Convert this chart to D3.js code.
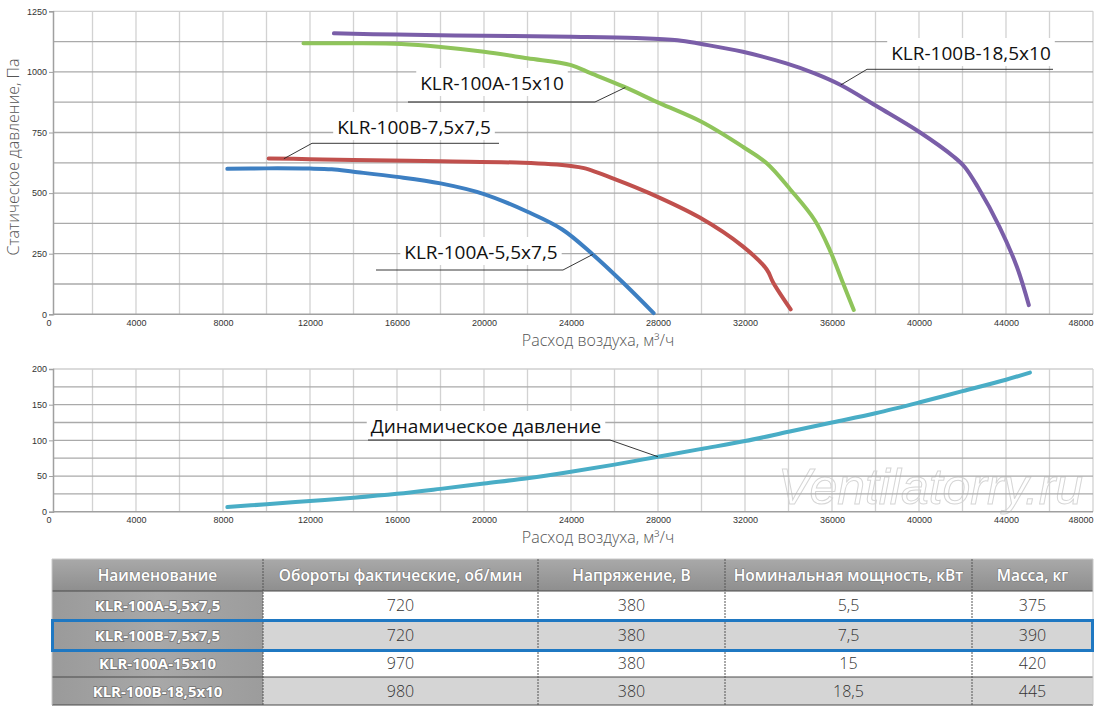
<!DOCTYPE html>
<html>
<head>
<meta charset="utf-8">
<script src="https://cdn.jsdelivr.net/npm/d3@7"></script>
<style>
body{margin:0;background:#fff;}
svg{display:block;font-family:"Open Sans","Noto Sans",sans-serif;}
</style>
</head>
<body>
<svg id="chart" width="1100" height="711"></svg>
<script>
// static pressure curves, [air flow m3/h, pressure Pa]
var curve55 = [[8200,600],[10000,602],[12000,601],[13000,598],[14000,588],[16000,567],[18000,540],[20000,496],[22000,423],[23600,350],[25000,247],[26400,130],[27800,5]];
var curve75 = [[10100,643],[12000,640],[14000,637],[18000,631],[21800,625],[24000,612],[24600,603],[26100,555],[27600,500],[29900,400],[31900,280],[33000,185],[33300,130],[34100,20]];
var curve15 = [[11700,1118],[14000,1118],[16200,1115],[17900,1104],[20000,1083],[22000,1056],[24000,1028],[24900,995],[26400,940],[28100,870],[30000,794],[31900,691],[33000,623],[34100,513],[35200,389],[35900,265],[36500,130],[37000,18]];
var curve185 = [[13100,1159],[16000,1154],[20000,1149],[24000,1145],[27000,1140],[28900,1131],[30000,1115],[31900,1083],[33900,1035],[35200,994],[36400,946],[38100,856],[40000,753],[41600,650],[42100,608],[42700,526],[43700,361],[44500,196],[45050,38]];
// dynamic pressure
var curveDyn = [[8200,6.5],[10000,10.5],[12000,15],[14000,19.5],[16000,25],[18000,32],[20000,39.5],[22000,47],[24000,56],[26000,66],[28000,77],[30000,88],[32000,99],[34000,112],[36000,125],[38000,138],[40000,153],[42000,169],[44000,185],[45100,195]];

var xTicks = [0,4000,8000,12000,16000,20000,24000,28000,32000,36000,40000,44000,48000];
var yTopTicks = [0,250,500,750,1000,1250];
var yBotTicks = [0,50,100,150,200];

// table
var tableHead = ["Наименование","Обороты фактические, об/мин","Напряжение, В","Номинальная мощность, кВт","Масса, кг"];
var models = ["KLR-100A-5,5x7,5","KLR-100B-7,5x7,5","KLR-100A-15x10","KLR-100B-18,5x10"];
var rpm = ["720","720","970","980"];
var voltage = ["380","380","380","380"];
var power = ["5,5","7,5","15","18,5"];
var mass = ["375","390","420","445"];

var svg = d3.select("#chart");

var x = d3.scaleLinear().domain([0,48000]).range([49,1093]);
var yTop = d3.scaleLinear().domain([0,1250]).range([314.3,11.3]);
var yBot = d3.scaleLinear().domain([0,200]).range([511.7,369]);

// watermark sits under the bottom grid
svg.append("text")
    .attr("x",778).attr("y",504)
    .attr("font-family","Liberation Sans, Arial, sans-serif")
    .attr("font-style","italic")
    .attr("font-size",50)
    .attr("textLength",305).attr("lengthAdjust","spacingAndGlyphs")
    .attr("fill","#fff").attr("stroke","#d6d6d6").attr("stroke-width",1)
    .text("Ventilatorry.ru");

function panel(y, step, ticks){
    var g = svg.append("g");
    var y0 = y.range()[0], y1 = y.range()[1];
    var yMax = y.domain()[1];
    // vertical grid
    g.selectAll(".vg").data(d3.range(2000,48001,2000)).enter().append("line")
        .attr("x1",function(d){return x(d);}).attr("x2",function(d){return x(d);})
        .attr("y1",y0).attr("y2",y1)
        .attr("stroke","#d2d2d2").attr("stroke-width",1.3);
    // horizontal grid
    g.selectAll(".hg").data(d3.range(step,yMax+1,step)).enter().append("line")
        .attr("x1",53).attr("x2",x(48000))
        .attr("y1",function(d){return y(d);}).attr("y2",function(d){return y(d);})
        .attr("stroke",function(d){return d==yMax?"#cfcfcf":"#aaaaaa";}).attr("stroke-width",1.3);

    var ya = g.append("g").attr("transform","translate(53,0)")
        .call(d3.axisLeft(y).tickValues(ticks).tickFormat(d3.format("d")).tickSize(4).tickPadding(2));
    ya.select(".domain").attr("stroke","#a0a0a0").attr("stroke-width",1.5);
    ya.selectAll(".tick line").attr("stroke","#a0a0a0");
    ya.selectAll("text").attr("font-size",9).attr("fill","#333");

    var xa = g.append("g").attr("transform","translate(0,"+y0+")")
        .call(d3.axisBottom(x).tickValues(xTicks).tickFormat(d3.format("d")).tickSize(0).tickPadding(5));
    xa.select(".domain").remove();
    g.append("line").attr("x1",53).attr("x2",x(48000)).attr("y1",y0).attr("y2",y0)
        .attr("stroke","#a0a0a0").attr("stroke-width",1.5);
    xa.selectAll("text").attr("font-size",9).attr("fill","#333")
        .attr("text-anchor",function(d){return d==48000?"end":(d==0?"end":"middle");})
        .attr("dx",function(d){return d==0?"2":"0";});
    return g;
}

var gTop = panel(yTop,125,yTopTicks);
var gBot = panel(yBot,25,yBotTicks);

function drawCurve(g, y, data, color){
    var line = d3.line().x(function(d){return x(d[0]);}).y(function(d){return y(d[1]);})
        .curve(d3.curveCatmullRom.alpha(0.5));
    g.append("path").datum(data).attr("d",line)
        .attr("fill","none").attr("stroke",color).attr("stroke-width",4)
        .attr("stroke-linecap","round").attr("stroke-linejoin","round");
}

drawCurve(gTop, yTop, curve55, "#3d7fc2");
drawCurve(gTop, yTop, curve75, "#c0504d");
drawCurve(gTop, yTop, curve15, "#8fc45b");
drawCurve(gTop, yTop, curve185, "#7a5ea8");
drawCurve(gBot, yBot, curveDyn, "#49adc6");

function valueAt(data, xv){
    for(var i=1;i<data.length;i++){
        if(data[i][0]>=xv){
            var a=data[i-1], b=data[i];
            return a[1]+(b[1]-a[1])*(xv-a[0])/(b[0]-a[0]);
        }
    }
    return data[data.length-1][1];
}

// callouts: curve, anchor flow value, text centre/baseline, underline
var callouts = [
    {g:gTop, y:yTop, data:curve185, ax:36400, text:"KLR-100B-18,5x10", tx:971, ty:60, u1:867, u2:1053, uy:69.3},
    {g:gTop, y:yTop, data:curve15, ax:26500, text:"KLR-100A-15x10", tx:492, ty:90, u1:408, u2:595, uy:102},
    {g:gTop, y:yTop, data:curve75, ax:10800, text:"KLR-100B-7,5x7,5", tx:414, ty:134, u1:312, u2:499, uy:143.3},
    {g:gTop, y:yTop, data:curve55, ax:25000, text:"KLR-100A-5,5x7,5", tx:481, ty:259, u1:376, u2:563, uy:270},
    {g:gBot, y:yBot, data:curveDyn, ax:28000, text:"Динамическое давление", tx:486, ty:433, u1:368, u2:610, uy:440}
];

callouts.forEach(function(c){
    var px = x(c.ax), py = c.y(valueAt(c.data,c.ax));
    var ex = Math.abs(px-c.u1) < Math.abs(px-c.u2) ? c.u1 : c.u2;
    var bg = c.g.append("rect").attr("fill","#fff");
    var t = c.g.append("text").attr("x",c.tx).attr("y",c.ty)
        .attr("text-anchor","middle").attr("font-size",19).attr("fill","#111")
        .text(c.text);
    var bb = t.node().getBBox();
    bg.attr("x",bb.x-4).attr("y",bb.y-2).attr("width",bb.width+8).attr("height",bb.height+2);
    c.g.append("line").attr("x1",c.u1).attr("x2",c.u2).attr("y1",c.uy).attr("y2",c.uy)
        .attr("stroke","#222").attr("stroke-width",0.9);
    c.g.append("line").attr("x1",ex).attr("y1",c.uy).attr("x2",px).attr("y2",py)
        .attr("stroke","#222").attr("stroke-width",0.9);
});

// axis titles
svg.append("text").attr("transform","translate(19,157) rotate(-90)")
    .attr("text-anchor","middle").attr("font-size",16).attr("font-weight",300).attr("fill","#555")
    .text("Статическое давление, Па");
svg.append("text").attr("x",598).attr("y",346)
    .attr("text-anchor","middle").attr("font-size",16).attr("font-weight",300).attr("fill","#555")
    .text("Расход воздуха, м³/ч");
svg.append("text").attr("x",598).attr("y",543)
    .attr("text-anchor","middle").attr("font-size",16).attr("font-weight",300).attr("fill","#555")
    .text("Расход воздуха, м³/ч");

// table
var colEdges = [52,263,538,725,972,1093];
var rowEdges = [559,591,620,650,677,705];
var defs = svg.append("defs");
var hg = defs.append("linearGradient").attr("id","headGrad").attr("x1",0).attr("y1",0).attr("x2",0).attr("y2",1);
hg.append("stop").attr("offset","0%").attr("stop-color","#a9a9a9");
hg.append("stop").attr("offset","100%").attr("stop-color","#8e8e8e");
var cg = defs.append("linearGradient").attr("id","nameGrad").attr("x1",0).attr("y1",0).attr("x2",1).attr("y2",0);
cg.append("stop").attr("offset","0%").attr("stop-color","#9a9a9a");
cg.append("stop").attr("offset","50%").attr("stop-color","#a8a8a8");
cg.append("stop").attr("offset","100%").attr("stop-color","#9c9c9c");

var tg = svg.append("g");
var rows = d3.range(models.length).map(function(i){
    return [models[i], rpm[i], voltage[i], power[i], mass[i]];
});

tg.append("rect").attr("x",colEdges[0]).attr("y",rowEdges[0])
    .attr("width",colEdges[5]-colEdges[0]).attr("height",rowEdges[1]-rowEdges[0])
    .attr("fill","url(#headGrad)");
tg.selectAll(".hd").data(tableHead).enter().append("text")
    .attr("x",function(d,i){return (colEdges[i]+colEdges[i+1])/2;})
    .attr("y",(rowEdges[0]+rowEdges[1])/2+5.5)
    .attr("text-anchor","middle").attr("font-size",15.5).attr("font-weight",600).attr("fill","#fff")
    .attr("stroke","#7a7a7a").attr("stroke-width",1.2).attr("paint-order","stroke")
    .text(function(d){return d;});

rows.forEach(function(r,ri){
    var top = rowEdges[ri+1], bot = rowEdges[ri+2];
    r.forEach(function(v,ci){
        tg.append("rect").attr("x",colEdges[ci]).attr("y",top)
            .attr("width",colEdges[ci+1]-colEdges[ci]).attr("height",bot-top)
            .attr("fill", ci==0 ? "url(#nameGrad)" : (ri%2==1 ? "#d5d5d5" : "#fff"));
        var t = tg.append("text")
            .attr("x",(colEdges[ci]+colEdges[ci+1])/2).attr("y",(top+bot)/2+5.5)
            .attr("text-anchor","middle").text(v);
        if(ci==0){
            t.attr("font-size",15).attr("font-weight",700).attr("fill","#fff")
                .attr("stroke","#6f6f6f").attr("stroke-width",1.4).attr("paint-order","stroke");
        } else {
            t.attr("font-size",16).attr("font-weight",300).attr("fill","#333");
        }
    });
});

// cell borders
tg.selectAll(".rl").data(rowEdges).enter().append("line")
    .attr("x1",colEdges[0]).attr("x2",colEdges[5])
    .attr("y1",function(d){return d;}).attr("y2",function(d){return d;})
    .attr("stroke",function(d,i){return i==0?"#c8c8c8":"#4a4a4a";}).attr("stroke-width",1);
tg.selectAll(".cl").data(colEdges).enter().append("line")
    .attr("x1",function(d){return d;}).attr("x2",function(d){return d;})
    .attr("y1",rowEdges[0]).attr("y2",rowEdges[5])
    .attr("stroke",function(d,i){return (i==0||i==5)?"#c8c8c8":"#555";}).attr("stroke-width",1)
    .attr("stroke-dasharray",function(d,i){return (i==0||i==5)?null:"2,1";});

// highlighted row
tg.append("rect").attr("x",colEdges[0]+0.5).attr("y",rowEdges[2]+0.5)
    .attr("width",colEdges[5]-colEdges[0]-1).attr("height",rowEdges[3]-rowEdges[2])
    .attr("fill","none").attr("stroke","#1f78c2").attr("stroke-width",3);
</script>
</body>
</html>
